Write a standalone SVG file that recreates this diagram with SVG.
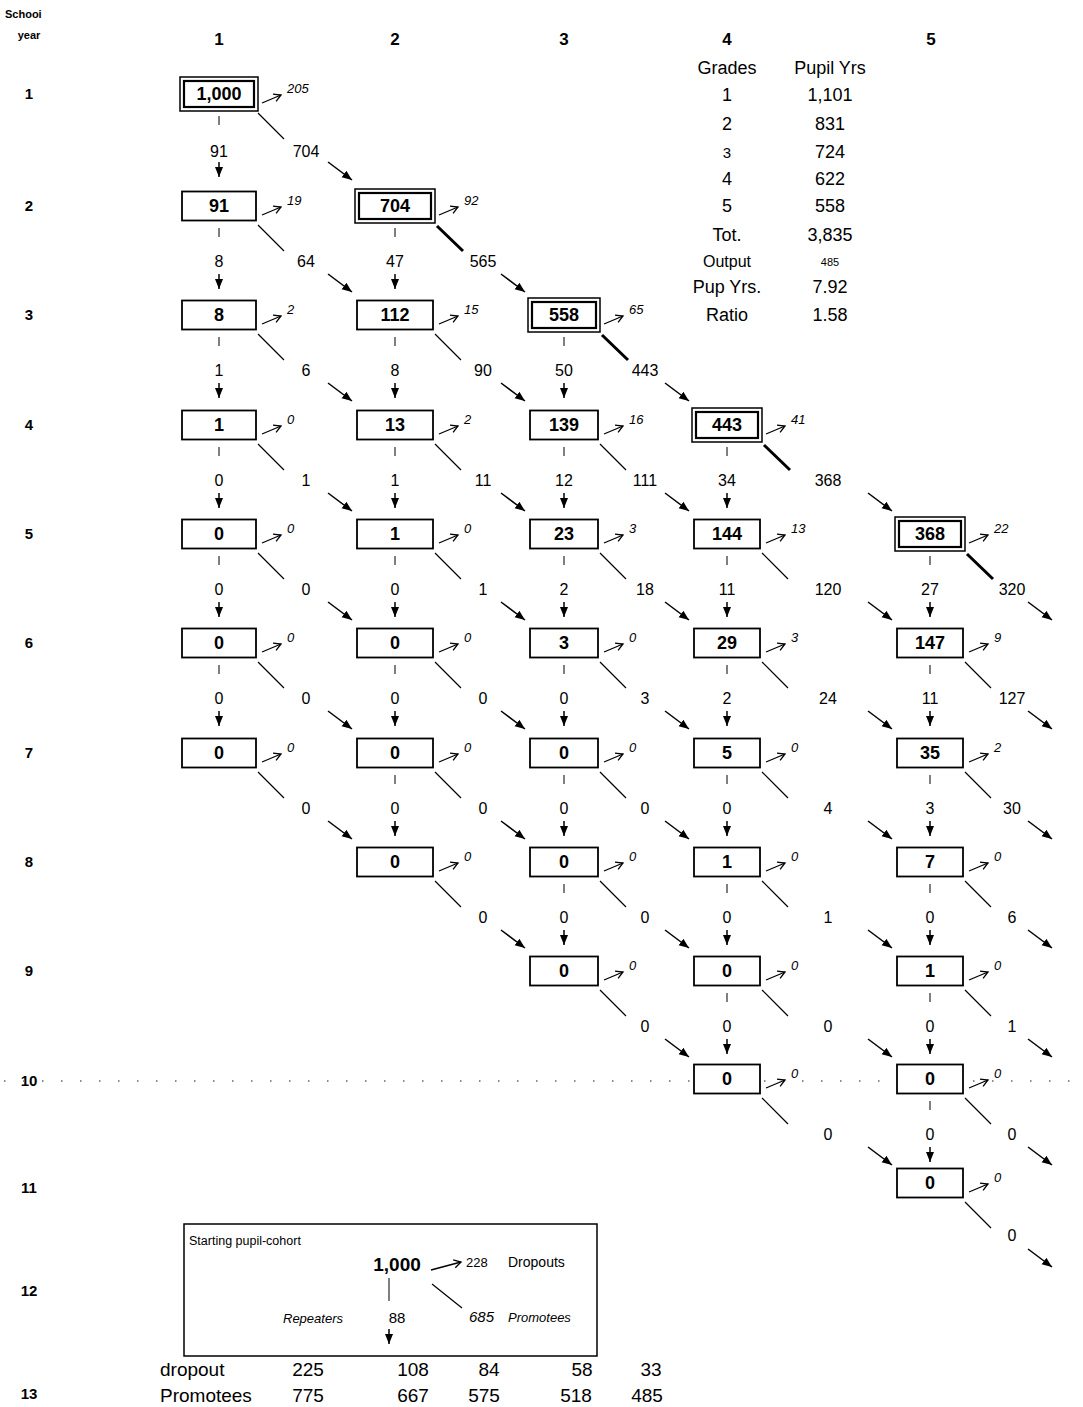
<svg xmlns="http://www.w3.org/2000/svg" width="1083" height="1407" viewBox="0 0 1083 1407">
<style>
text{font-family:"Liberation Sans",Arial,sans-serif;fill:#000}
.hd{font-weight:bold;font-size:17px;text-anchor:middle}
.rl{font-weight:bold;font-size:15px;text-anchor:middle}
.bx{fill:#fff;stroke:#000;stroke-width:1.8}
.bo{fill:#fff;stroke:#000;stroke-width:1.5}
.bi{fill:none;stroke:#000;stroke-width:2.2}
.bt{font-weight:bold;font-size:18px;text-anchor:middle}
.dl{stroke:#000;stroke-width:1.3;fill:none;marker-end:url(#oa)}
.dt{font-style:italic;font-size:13px}
.tk{stroke:#000;stroke-width:1;fill:none}
.lb{font-size:16px;text-anchor:middle}
.ar{stroke:#000;stroke-width:1.5;marker-end:url(#fa)}
.dg{stroke:#000;stroke-width:1.2;fill:none}
.dk{stroke:#000;stroke-width:3;fill:none}
.tb{font-size:18px;text-anchor:middle}
.tt{font-size:19px;text-anchor:middle}
</style>
<defs>
<marker id="fa" markerUnits="userSpaceOnUse" markerWidth="11" markerHeight="10" refX="10" refY="5" orient="auto"><path d="M0,1 L10,5 L0,9 z" fill="#000"/></marker>
<marker id="oa" markerUnits="userSpaceOnUse" markerWidth="10" markerHeight="10" refX="8" refY="5" orient="auto"><path d="M1,1 L8,5 L1,9" fill="none" stroke="#000" stroke-width="1.3"/></marker>
</defs>
<rect width="1083" height="1407" fill="#fff"/>

<g id="headers">
<text x="5" y="18" style="font-weight:bold;font-size:11px">Schooi</text>
<text x="29" y="39" style="font-weight:bold;font-size:11px;text-anchor:middle">year</text>
<text class="hd" x="219" y="45">1</text>
<text class="hd" x="395" y="45">2</text>
<text class="hd" x="564" y="45">3</text>
<text class="hd" x="727" y="45">4</text>
<text class="hd" x="931" y="45">5</text>
<text class="rl" x="29" y="99">1</text>
<text class="rl" x="29" y="211">2</text>
<text class="rl" x="29" y="320">3</text>
<text class="rl" x="29" y="430">4</text>
<text class="rl" x="29" y="539">5</text>
<text class="rl" x="29" y="648">6</text>
<text class="rl" x="29" y="758">7</text>
<text class="rl" x="29" y="867">8</text>
<text class="rl" x="29" y="976">9</text>
<text class="rl" x="29" y="1086">10</text>
<text class="rl" x="29" y="1193">11</text>
<text class="rl" x="29" y="1296">12</text>
<text class="rl" x="29" y="1399">13</text>
</g>

<line x1="4" y1="1081" x2="1083" y2="1081" stroke="#666" stroke-width="1.5" stroke-dasharray="1.5 17.5"/>

<g id="summary-table">
<text class="tb" x="727" y="74">Grades</text>
<text class="tb" x="830" y="74">Pupil Yrs</text>
<text class="tb" x="727" y="101">1</text><text class="tb" x="830" y="101">1,101</text>
<text class="tb" x="727" y="130">2</text><text class="tb" x="830" y="130">831</text>
<text class="tb" x="727" y="158" style="font-size:15px">3</text><text class="tb" x="830" y="158">724</text>
<text class="tb" x="727" y="185">4</text><text class="tb" x="830" y="185">622</text>
<text class="tb" x="727" y="212">5</text><text class="tb" x="830" y="212">558</text>
<text class="tb" x="727" y="241">Tot.</text><text class="tb" x="830" y="241">3,835</text>
<text class="tb" x="727" y="267" style="font-size:16px">Output</text><text class="tb" x="830" y="266" style="font-size:11px">485</text>
<text class="tb" x="727" y="293">Pup Yrs.</text><text class="tb" x="830" y="293">7.92</text>
<text class="tb" x="727" y="321">Ratio</text><text class="tb" x="830" y="321">1.58</text>
</g>

<!-- Column 1 nodes -->
<g id="n-c1r1"><rect class="bo" x="180" y="77" width="78" height="34"/><rect class="bi" x="184" y="81" width="70" height="26"/><text class="bt" x="219" y="100">1,000</text><path class="dl" d="M262 103L281 95"/><text class="dt" x="287" y="93">205</text></g>
<g id="n-c1r2"><rect class="bx" x="182" y="191.5" width="74" height="29"/><text class="bt" x="219" y="212">91</text><path class="dl" d="M262 215L281 207"/><text class="dt" x="287" y="205">19</text></g>
<g id="n-c1r3"><rect class="bx" x="182" y="300.5" width="74" height="29"/><text class="bt" x="219" y="321">8</text><path class="dl" d="M262 324L281 316"/><text class="dt" x="287" y="314">2</text></g>
<g id="n-c1r4"><rect class="bx" x="182" y="410.5" width="74" height="29"/><text class="bt" x="219" y="431">1</text><path class="dl" d="M262 434L281 426"/><text class="dt" x="287" y="424">0</text></g>
<g id="n-c1r5"><rect class="bx" x="182" y="519.5" width="74" height="29"/><text class="bt" x="219" y="540">0</text><path class="dl" d="M262 543L281 535"/><text class="dt" x="287" y="533">0</text></g>
<g id="n-c1r6"><rect class="bx" x="182" y="628.5" width="74" height="29"/><text class="bt" x="219" y="649">0</text><path class="dl" d="M262 652L281 644"/><text class="dt" x="287" y="642">0</text></g>
<g id="n-c1r7"><rect class="bx" x="182" y="738.5" width="74" height="29"/><text class="bt" x="219" y="759">0</text><path class="dl" d="M262 762L281 754"/><text class="dt" x="287" y="752">0</text></g>

<!-- Column 2 nodes -->
<g id="n-c2r2"><rect class="bo" x="355" y="189" width="80" height="34"/><rect class="bi" x="359" y="193" width="72" height="26"/><text class="bt" x="395" y="212">704</text><path class="dl" d="M439 215L458 207"/><text class="dt" x="464" y="205">92</text></g>
<g id="n-c2r3"><rect class="bx" x="357" y="300.5" width="76" height="29"/><text class="bt" x="395" y="321">112</text><path class="dl" d="M439 324L458 316"/><text class="dt" x="464" y="314">15</text></g>
<g id="n-c2r4"><rect class="bx" x="357" y="410.5" width="76" height="29"/><text class="bt" x="395" y="431">13</text><path class="dl" d="M439 434L458 426"/><text class="dt" x="464" y="424">2</text></g>
<g id="n-c2r5"><rect class="bx" x="357" y="519.5" width="76" height="29"/><text class="bt" x="395" y="540">1</text><path class="dl" d="M439 543L458 535"/><text class="dt" x="464" y="533">0</text></g>
<g id="n-c2r6"><rect class="bx" x="357" y="628.5" width="76" height="29"/><text class="bt" x="395" y="649">0</text><path class="dl" d="M439 652L458 644"/><text class="dt" x="464" y="642">0</text></g>
<g id="n-c2r7"><rect class="bx" x="357" y="738.5" width="76" height="29"/><text class="bt" x="395" y="759">0</text><path class="dl" d="M439 762L458 754"/><text class="dt" x="464" y="752">0</text></g>
<g id="n-c2r8"><rect class="bx" x="357" y="847.5" width="76" height="29"/><text class="bt" x="395" y="868">0</text><path class="dl" d="M439 871L458 863"/><text class="dt" x="464" y="861">0</text></g>

<!-- Column 3 nodes -->
<g id="n-c3r3"><rect class="bo" x="528" y="298" width="72" height="34"/><rect class="bi" x="532" y="302" width="64" height="26"/><text class="bt" x="564" y="321">558</text><path class="dl" d="M604 324L623 316"/><text class="dt" x="629" y="314">65</text></g>
<g id="n-c3r4"><rect class="bx" x="530" y="410.5" width="68" height="29"/><text class="bt" x="564" y="431">139</text><path class="dl" d="M604 434L623 426"/><text class="dt" x="629" y="424">16</text></g>
<g id="n-c3r5"><rect class="bx" x="530" y="519.5" width="68" height="29"/><text class="bt" x="564" y="540">23</text><path class="dl" d="M604 543L623 535"/><text class="dt" x="629" y="533">3</text></g>
<g id="n-c3r6"><rect class="bx" x="530" y="628.5" width="68" height="29"/><text class="bt" x="564" y="649">3</text><path class="dl" d="M604 652L623 644"/><text class="dt" x="629" y="642">0</text></g>
<g id="n-c3r7"><rect class="bx" x="530" y="738.5" width="68" height="29"/><text class="bt" x="564" y="759">0</text><path class="dl" d="M604 762L623 754"/><text class="dt" x="629" y="752">0</text></g>
<g id="n-c3r8"><rect class="bx" x="530" y="847.5" width="68" height="29"/><text class="bt" x="564" y="868">0</text><path class="dl" d="M604 871L623 863"/><text class="dt" x="629" y="861">0</text></g>
<g id="n-c3r9"><rect class="bx" x="530" y="956.5" width="68" height="29"/><text class="bt" x="564" y="977">0</text><path class="dl" d="M604 980L623 972"/><text class="dt" x="629" y="970">0</text></g>

<!-- Column 4 nodes -->
<g id="n-c4r4"><rect class="bo" x="692" y="408" width="70" height="34"/><rect class="bi" x="696" y="412" width="62" height="26"/><text class="bt" x="727" y="431">443</text><path class="dl" d="M766 434L785 426"/><text class="dt" x="791" y="424">41</text></g>
<g id="n-c4r5"><rect class="bx" x="694" y="519.5" width="66" height="29"/><text class="bt" x="727" y="540">144</text><path class="dl" d="M766 543L785 535"/><text class="dt" x="791" y="533">13</text></g>
<g id="n-c4r6"><rect class="bx" x="694" y="628.5" width="66" height="29"/><text class="bt" x="727" y="649">29</text><path class="dl" d="M766 652L785 644"/><text class="dt" x="791" y="642">3</text></g>
<g id="n-c4r7"><rect class="bx" x="694" y="738.5" width="66" height="29"/><text class="bt" x="727" y="759">5</text><path class="dl" d="M766 762L785 754"/><text class="dt" x="791" y="752">0</text></g>
<g id="n-c4r8"><rect class="bx" x="694" y="847.5" width="66" height="29"/><text class="bt" x="727" y="868">1</text><path class="dl" d="M766 871L785 863"/><text class="dt" x="791" y="861">0</text></g>
<g id="n-c4r9"><rect class="bx" x="694" y="956.5" width="66" height="29"/><text class="bt" x="727" y="977">0</text><path class="dl" d="M766 980L785 972"/><text class="dt" x="791" y="970">0</text></g>
<g id="n-c4r10"><rect class="bx" x="694" y="1064.5" width="66" height="29"/><text class="bt" x="727" y="1085">0</text><path class="dl" d="M766 1088L785 1080"/><text class="dt" x="791" y="1078">0</text></g>

<!-- Column 5 nodes -->
<g id="n-c5r5"><rect class="bo" x="895" y="517" width="70" height="34"/><rect class="bi" x="899" y="521" width="62" height="26"/><text class="bt" x="930" y="540">368</text><path class="dl" d="M969 543L988 535"/><text class="dt" x="994" y="533">22</text></g>
<g id="n-c5r6"><rect class="bx" x="897" y="628.5" width="66" height="29"/><text class="bt" x="930" y="649">147</text><path class="dl" d="M969 652L988 644"/><text class="dt" x="994" y="642">9</text></g>
<g id="n-c5r7"><rect class="bx" x="897" y="738.5" width="66" height="29"/><text class="bt" x="930" y="759">35</text><path class="dl" d="M969 762L988 754"/><text class="dt" x="994" y="752">2</text></g>
<g id="n-c5r8"><rect class="bx" x="897" y="847.5" width="66" height="29"/><text class="bt" x="930" y="868">7</text><path class="dl" d="M969 871L988 863"/><text class="dt" x="994" y="861">0</text></g>
<g id="n-c5r9"><rect class="bx" x="897" y="956.5" width="66" height="29"/><text class="bt" x="930" y="977">1</text><path class="dl" d="M969 980L988 972"/><text class="dt" x="994" y="970">0</text></g>
<g id="n-c5r10"><rect class="bx" x="897" y="1064.5" width="66" height="29"/><text class="bt" x="930" y="1085">0</text><path class="dl" d="M969 1088L988 1080"/><text class="dt" x="994" y="1078">0</text></g>
<g id="n-c5r11"><rect class="bx" x="897" y="1168.5" width="66" height="29"/><text class="bt" x="930" y="1189">0</text><path class="dl" d="M969 1192L988 1184"/><text class="dt" x="994" y="1182">0</text></g>

<g id="connectors">
<!-- repeater ticks -->
<path class="tk" d="M219 116V125M219 228V237M219 337V346M219 447V456M219 556V565M219 665V674
M395 228V237M395 337V346M395 447V456M395 556V565M395 665V674M395 775V784
M564 337V346M564 447V456M564 556V565M564 665V674M564 775V784M564 884V893
M727 447V456M727 556V565M727 665V674M727 775V784M727 884V893M727 993V1002
M930 556V565M930 665V674M930 775V784M930 884V893M930 993V1002M930 1101V1110"/>
<!-- repeater arrows -->
<line class="ar" x1="219" y1="162" x2="219" y2="177"/><line class="ar" x1="219" y1="274" x2="219" y2="289"/><line class="ar" x1="219" y1="383" x2="219" y2="398"/><line class="ar" x1="219" y1="493" x2="219" y2="508"/><line class="ar" x1="219" y1="602" x2="219" y2="617"/><line class="ar" x1="219" y1="711" x2="219" y2="726"/>
<line class="ar" x1="395" y1="274" x2="395" y2="289"/><line class="ar" x1="395" y1="383" x2="395" y2="398"/><line class="ar" x1="395" y1="493" x2="395" y2="508"/><line class="ar" x1="395" y1="602" x2="395" y2="617"/><line class="ar" x1="395" y1="711" x2="395" y2="726"/><line class="ar" x1="395" y1="821" x2="395" y2="836"/>
<line class="ar" x1="564" y1="383" x2="564" y2="398"/><line class="ar" x1="564" y1="493" x2="564" y2="508"/><line class="ar" x1="564" y1="602" x2="564" y2="617"/><line class="ar" x1="564" y1="711" x2="564" y2="726"/><line class="ar" x1="564" y1="821" x2="564" y2="836"/><line class="ar" x1="564" y1="930" x2="564" y2="945"/>
<line class="ar" x1="727" y1="493" x2="727" y2="508"/><line class="ar" x1="727" y1="602" x2="727" y2="617"/><line class="ar" x1="727" y1="711" x2="727" y2="726"/><line class="ar" x1="727" y1="821" x2="727" y2="836"/><line class="ar" x1="727" y1="930" x2="727" y2="945"/><line class="ar" x1="727" y1="1039" x2="727" y2="1054"/>
<line class="ar" x1="930" y1="602" x2="930" y2="617"/><line class="ar" x1="930" y1="711" x2="930" y2="726"/><line class="ar" x1="930" y1="821" x2="930" y2="836"/><line class="ar" x1="930" y1="930" x2="930" y2="945"/><line class="ar" x1="930" y1="1039" x2="930" y2="1054"/><line class="ar" x1="930" y1="1147" x2="930" y2="1162"/>
<!-- repeater labels -->
<text class="lb" x="219" y="157">91</text><text class="lb" x="219" y="267">8</text><text class="lb" x="219" y="376">1</text><text class="lb" x="219" y="486">0</text><text class="lb" x="219" y="595">0</text><text class="lb" x="219" y="704">0</text>
<text class="lb" x="395" y="267">47</text><text class="lb" x="395" y="376">8</text><text class="lb" x="395" y="486">1</text><text class="lb" x="395" y="595">0</text><text class="lb" x="395" y="704">0</text><text class="lb" x="395" y="814">0</text>
<text class="lb" x="564" y="376">50</text><text class="lb" x="564" y="486">12</text><text class="lb" x="564" y="595">2</text><text class="lb" x="564" y="704">0</text><text class="lb" x="564" y="814">0</text><text class="lb" x="564" y="923">0</text>
<text class="lb" x="727" y="486">34</text><text class="lb" x="727" y="595">11</text><text class="lb" x="727" y="704">2</text><text class="lb" x="727" y="814">0</text><text class="lb" x="727" y="923">0</text><text class="lb" x="727" y="1032">0</text>
<text class="lb" x="930" y="595">27</text><text class="lb" x="930" y="704">11</text><text class="lb" x="930" y="814">3</text><text class="lb" x="930" y="923">0</text><text class="lb" x="930" y="1032">0</text><text class="lb" x="930" y="1140">0</text>
<!-- promotion first segments -->
<path class="dg" d="M258 113L284 139M258 225L284 251M258 334L284 360M258 444L284 470M258 553L284 579M258 662L284 688M258 772L284 798
M435 334L461 360M435 444L461 470M435 553L461 579M435 662L461 688M435 772L461 798M435 881L461 907
M600 444L626 470M600 553L626 579M600 662L626 688M600 772L626 798M600 881L626 907M600 990L626 1016
M762 553L788 579M762 662L788 688M762 772L788 798M762 881L788 907M762 990L788 1016M762 1098L788 1124
M965 662L991 688M965 772L991 798M965 881L991 907M965 990L991 1016M965 1098L991 1124M965 1202L991 1228"/>
<path class="dk" d="M437 226L463 251M602 335L628 360M764 445L790 470M967 554L993 579"/>
<!-- promotion arrows -->
<line class="ar" x1="328" y1="162" x2="352" y2="180"/><line class="ar" x1="328" y1="274" x2="352" y2="292"/><line class="ar" x1="328" y1="383" x2="352" y2="401"/><line class="ar" x1="328" y1="493" x2="352" y2="511"/><line class="ar" x1="328" y1="602" x2="352" y2="620"/><line class="ar" x1="328" y1="711" x2="352" y2="729"/><line class="ar" x1="328" y1="821" x2="352" y2="839"/>
<line class="ar" x1="501" y1="274" x2="525" y2="292"/><line class="ar" x1="501" y1="383" x2="525" y2="401"/><line class="ar" x1="501" y1="493" x2="525" y2="511"/><line class="ar" x1="501" y1="602" x2="525" y2="620"/><line class="ar" x1="501" y1="711" x2="525" y2="729"/><line class="ar" x1="501" y1="821" x2="525" y2="839"/><line class="ar" x1="501" y1="930" x2="525" y2="948"/>
<line class="ar" x1="665" y1="383" x2="689" y2="401"/><line class="ar" x1="665" y1="493" x2="689" y2="511"/><line class="ar" x1="665" y1="602" x2="689" y2="620"/><line class="ar" x1="665" y1="711" x2="689" y2="729"/><line class="ar" x1="665" y1="821" x2="689" y2="839"/><line class="ar" x1="665" y1="930" x2="689" y2="948"/><line class="ar" x1="665" y1="1039" x2="689" y2="1057"/>
<line class="ar" x1="868" y1="493" x2="892" y2="511"/><line class="ar" x1="868" y1="602" x2="892" y2="620"/><line class="ar" x1="868" y1="711" x2="892" y2="729"/><line class="ar" x1="868" y1="821" x2="892" y2="839"/><line class="ar" x1="868" y1="930" x2="892" y2="948"/><line class="ar" x1="868" y1="1039" x2="892" y2="1057"/><line class="ar" x1="868" y1="1147" x2="892" y2="1165"/>
<line class="ar" x1="1028" y1="602" x2="1052" y2="620"/><line class="ar" x1="1028" y1="711" x2="1052" y2="729"/><line class="ar" x1="1028" y1="821" x2="1052" y2="839"/><line class="ar" x1="1028" y1="930" x2="1052" y2="948"/><line class="ar" x1="1028" y1="1039" x2="1052" y2="1057"/><line class="ar" x1="1028" y1="1147" x2="1052" y2="1165"/><line class="ar" x1="1028" y1="1249" x2="1052" y2="1267"/>
<!-- promotion labels -->
<text class="lb" x="306" y="157">704</text><text class="lb" x="306" y="267">64</text><text class="lb" x="306" y="376">6</text><text class="lb" x="306" y="486">1</text><text class="lb" x="306" y="595">0</text><text class="lb" x="306" y="704">0</text><text class="lb" x="306" y="814">0</text>
<text class="lb" x="483" y="267">565</text><text class="lb" x="483" y="376">90</text><text class="lb" x="483" y="486">11</text><text class="lb" x="483" y="595">1</text><text class="lb" x="483" y="704">0</text><text class="lb" x="483" y="814">0</text><text class="lb" x="483" y="923">0</text>
<text class="lb" x="645" y="376">443</text><text class="lb" x="645" y="486">111</text><text class="lb" x="645" y="595">18</text><text class="lb" x="645" y="704">3</text><text class="lb" x="645" y="814">0</text><text class="lb" x="645" y="923">0</text><text class="lb" x="645" y="1032">0</text>
<text class="lb" x="828" y="486">368</text><text class="lb" x="828" y="595">120</text><text class="lb" x="828" y="704">24</text><text class="lb" x="828" y="814">4</text><text class="lb" x="828" y="923">1</text><text class="lb" x="828" y="1032">0</text><text class="lb" x="828" y="1140">0</text>
<text class="lb" x="1012" y="595">320</text><text class="lb" x="1012" y="704">127</text><text class="lb" x="1012" y="814">30</text><text class="lb" x="1012" y="923">6</text><text class="lb" x="1012" y="1032">1</text><text class="lb" x="1012" y="1140">0</text><text class="lb" x="1012" y="1241">0</text>
</g>

<g id="legend">
<rect x="184" y="1224" width="413" height="132" fill="none" stroke="#000" stroke-width="1.5"/>
<text x="189" y="1245" style="font-size:12.5px">Starting pupil-cohort</text>
<text x="397" y="1271" style="font-weight:bold;font-size:19px;text-anchor:middle">1,000</text>
<path class="dl" d="M431 1270L461 1262"/>
<text x="466" y="1267" style="font-size:13px">228</text>
<text x="508" y="1267" style="font-size:14px">Dropouts</text>
<path class="tk" d="M389 1278V1301"/>
<path class="dg" d="M432 1284L462 1308"/>
<text x="313" y="1323" style="font-style:italic;font-size:13px;text-anchor:middle">Repeaters</text>
<text x="397" y="1323" style="font-size:15px;text-anchor:middle">88</text>
<line class="ar" x1="389" y1="1329" x2="389" y2="1344"/>
<text x="469" y="1322" style="font-style:italic;font-size:15px">685</text>
<text x="508" y="1322" style="font-style:italic;font-size:13px">Promotees</text>
</g>

<g id="totals">
<text x="160" y="1376" style="font-size:19px">dropout</text>
<text class="tt" x="308" y="1376">225</text><text class="tt" x="413" y="1376">108</text><text class="tt" x="489" y="1376">84</text><text class="tt" x="582" y="1376">58</text><text class="tt" x="651" y="1376">33</text>
<text x="160" y="1402" style="font-size:19px">Promotees</text>
<text class="tt" x="308" y="1402">775</text><text class="tt" x="413" y="1402">667</text><text class="tt" x="484" y="1402">575</text><text class="tt" x="576" y="1402">518</text><text class="tt" x="647" y="1402">485</text>
</g>
</svg>
